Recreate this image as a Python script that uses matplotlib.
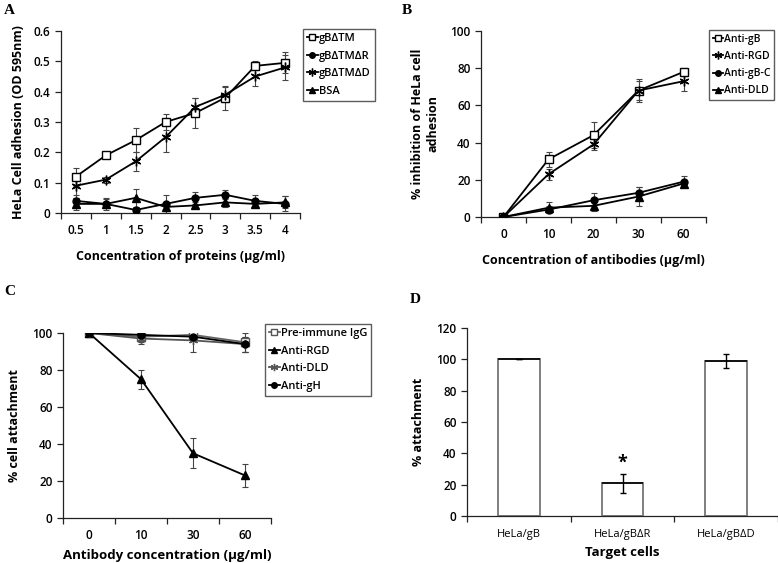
import matplotlib
matplotlib.use("Agg")
import matplotlib.pyplot as plt
import numpy as np
from matplotlib.ticker import FixedLocator

plt.rcParams['font.family'] = ['Open Sans', 'DejaVu Sans']

W, H = 778, 563
fig = plt.figure(figsize=(W / 100, H / 100), dpi=100)

# ---------------- data ----------------
a_x = ["0.5", "1", "1.5", "2", "2.5", "3", "3.5", "4"]
a_tm = [0.12, 0.19, 0.24, 0.30, 0.33, 0.38, 0.485, 0.495]
a_tm_err = [0.03, 0.005, 0.04, 0.025, 0.05, 0.04, 0.015, 0.035]
a_tmR = [0.04, 0.03, 0.01, 0.03, 0.05, 0.06, 0.04, 0.03]
a_tmR_err = [0.02, 0.02, 0.01, 0.03, 0.02, 0.015, 0.02, 0.025]
a_tmD = [0.09, 0.11, 0.17, 0.25, 0.35, 0.39, 0.45, 0.48]
a_tmD_err = [0.04, 0.01, 0.03, 0.05, 0.03, 0.025, 0.03, 0.04]
a_bsa = [0.03, 0.03, 0.05, 0.02, 0.025, 0.035, 0.03, 0.035]
a_bsa_err = [0.02, 0.015, 0.03, 0.01, 0.01, 0.015, 0.01, 0.02]

b_x = ["0", "10", "20", "30", "60"]
b_gb = [0, 31, 44, 68, 78]
b_gb_err = [0, 4, 7, 5, 2]
b_rgd = [0, 23, 39, 68, 73]
b_rgd_err = [0, 3, 3, 6, 5]
b_gbc = [0, 4, 9, 13, 19]
b_gbc_err = [0, 2, 4, 3, 3]
b_dld = [0, 5, 6, 11, 18]
b_dld_err = [0, 3, 3, 5, 2]

c_x = ["0", "10", "30", "60"]
c_pre = [100, 98, 99, 95]
c_pre_err = [0, 3, 2, 5]
c_rgd = [100, 75, 35, 23]
c_rgd_err = [0, 5, 8, 6]
c_dld = [100, 97, 96, 94]
c_dld_err = [0, 3, 6, 4]
c_gh = [100, 99, 98, 94]
c_gh_err = [0, 2, 2, 4]

d_cats = ["HeLa/gB", "HeLa/gB\u0394R", "HeLa/gB\u0394D"]
d_vals = [100, 21, 99]
d_err = [0, 6, 4.5]


def ax_rect(l, t, r, b):
    return [l / W, 1 - b / H, (r - l) / W, (b - t) / H]


def style_axes(ax, ncat, ylim, yticks, yfmt, xlabels):
    ax.set_xlim(-0.5, ncat - 0.5)
    ax.set_ylim(*ylim)
    for s in ['top', 'right']:
        ax.spines[s].set_visible(False)
    for s in ['left', 'bottom']:
        ax.spines[s].set_color('#222222')
        ax.spines[s].set_linewidth(0.9)
    ax.set_xticks(range(ncat))
    ax.set_xticklabels(xlabels)
    ax.xaxis.set_minor_locator(FixedLocator(np.arange(-0.5, ncat, 1.0)))
    ax.tick_params(axis='x', which='major', length=0, pad=8, labelsize=8.5)
    ax.tick_params(axis='x', which='minor', length=4, width=0.9, direction='out', color='#222222')
    ax.set_yticks(yticks)
    ax.set_yticklabels([yfmt(v) for v in yticks])
    ax.tick_params(axis='y', length=4, width=0.9, direction='out', labelsize=8.5, color='#222222')
    for lab in ax.get_xticklabels() + ax.get_yticklabels():
        lab.set_fontweight('semibold')


def series(ax, x, y, e, marker, label, ms=6, mfc='black', mec='black', color='black', mew=1.0):
    ax.errorbar(x, y, yerr=e, fmt='none', ecolor='#444444', elinewidth=0.8, capsize=2,
                capthick=0.8, zorder=2)
    ax.plot(x, y, color=color, lw=1.3, marker=marker, ms=ms, mfc=mfc, mec=mec,
            mew=mew, label=label, zorder=3)


def legend(ax, loc_px, fs=8):
    l, t = loc_px
    leg = ax.legend(loc='upper left', bbox_to_anchor=(l / W, 1 - t / H), bbox_transform=fig.transFigure,
                    frameon=True, fancybox=False, handlelength=1.0, handletextpad=0.1,
                    borderpad=0.35, labelspacing=0.6, borderaxespad=0, markerscale=0.8,
                    prop={'weight': 'semibold', 'size': fs})
    leg.get_frame().set_edgecolor('#333333')
    leg.get_frame().set_linewidth(1.0)
    return leg


# ---------------- Panel A ----------------
axA = fig.add_axes(ax_rect(61, 31, 300, 213))
xa = np.arange(len(a_x))
series(axA, xa, a_tm, a_tm_err, 's', 'gB\u0394TM', ms=6, mfc='white')
series(axA, xa, a_tmR, a_tmR_err, 'o', 'gB\u0394TM\u0394R', ms=5)
series(axA, xa, a_tmD, a_tmD_err, (6, 2, 0), 'gB\u0394TM\u0394D', ms=7, mew=1.0)
series(axA, xa, a_bsa, a_bsa_err, '^', 'BSA', ms=5.5)
style_axes(axA, len(a_x), (0, 0.6), [0, 0.1, 0.2, 0.3, 0.4, 0.5, 0.6],
           lambda v: '0' if v == 0 else f'{v:g}', a_x)
axA.set_xlabel('Concentration of proteins (\u00b5g/ml)', fontweight='bold', fontsize=9, labelpad=9)
axA.set_ylabel('HeLa Cell adhesion (OD 595nm)', fontweight='bold', fontsize=9, labelpad=6)
legend(axA, (303, 29))

# ---------------- Panel B ----------------
axB = fig.add_axes(ax_rect(481, 31, 706, 217))
xb = np.arange(len(b_x))
series(axB, xb, b_gb, b_gb_err, 's', 'Anti-gB', ms=6, mfc='white')
series(axB, xb, b_rgd, b_rgd_err, (6, 2, 0), 'Anti-RGD', ms=7)
series(axB, xb, b_gbc, b_gbc_err, 'o', 'Anti-gB-C', ms=5)
series(axB, xb, b_dld, b_dld_err, '^', 'Anti-DLD', ms=5.5)
style_axes(axB, len(b_x), (0, 100), [0, 20, 40, 60, 80, 100], lambda v: f'{v:g}', b_x)
axB.set_xlabel('Concentration of antibodies (\u00b5g/ml)', fontweight='bold', fontsize=9, labelpad=9)
axB.set_ylabel('% inhibition of HeLa cell\nadhesion', fontweight='bold', fontsize=9, labelpad=8)
legend(axB, (709, 30), fs=7.5)

# ---------------- Panel C ----------------
axC = fig.add_axes(ax_rect(63, 333, 271, 518))
xc = np.arange(len(c_x))
series(axC, xc, c_pre, c_pre_err, 's', 'Pre-immune IgG', ms=6, mfc='white', mec='#555555', color='#666666')
series(axC, xc, c_rgd, c_rgd_err, '^', 'Anti-RGD', ms=5.5)
series(axC, xc, c_dld, c_dld_err, (6, 2, 0), 'Anti-DLD', ms=6.5, color='#555555', mec='#555555')
series(axC, xc, c_gh, c_gh_err, 'o', 'Anti-gH', ms=5)
style_axes(axC, len(c_x), (0, 100), [0, 20, 40, 60, 80, 100], lambda v: f'{v:g}', c_x)
axC.set_xlabel('Antibody concentration (\u00b5g/ml)', fontweight='bold', fontsize=9.5, labelpad=5)
axC.set_ylabel('% cell attachment', fontweight='bold', fontsize=9, labelpad=8)
legend(axC, (265, 324))

# ---------------- Panel D ----------------
axD = fig.add_axes(ax_rect(467, 328, 778, 516))
xd = np.arange(len(d_cats))
bw = 0.4
axD.bar(xd, d_vals, width=bw, color='white', edgecolor='#7f7f7f', linewidth=1.4, zorder=2)
axD.hlines(d_vals, xd - bw / 2, xd + bw / 2, color='black', lw=1.2, zorder=3)
axD.errorbar(xd, d_vals, yerr=d_err, fmt='none', ecolor='black', elinewidth=1.0, capsize=2.5,
             capthick=1.0, zorder=4)
style_axes(axD, len(d_cats), (0, 120), [0, 20, 40, 60, 80, 100, 120], lambda v: f'{v:g}', d_cats)
for lab in axD.get_xticklabels():
    lab.set_fontweight('normal')
    lab.set_fontsize(8)
axD.tick_params(axis='x', which='major', pad=9)
axD.text(xd[1], d_vals[1] + d_err[1] + 1, '*', ha='center', va='bottom', fontsize=13, fontweight='bold')
axD.set_xlabel('Target cells', fontweight='bold', fontsize=9.5, labelpad=5)
axD.set_ylabel('% attachment', fontweight='bold', fontsize=9, labelpad=8)

# ---------------- Panel letters ----------------
for txt, (px, py) in zip("ABCD", [(4, 4), (402, 4), (4, 285), (410, 293)]):
    fig.text(px / W, 1 - py / H, txt, family=['Liberation Serif'], fontsize=11, fontweight='bold', va='top', ha='left')

fig.savefig('out.png', dpi=100)
